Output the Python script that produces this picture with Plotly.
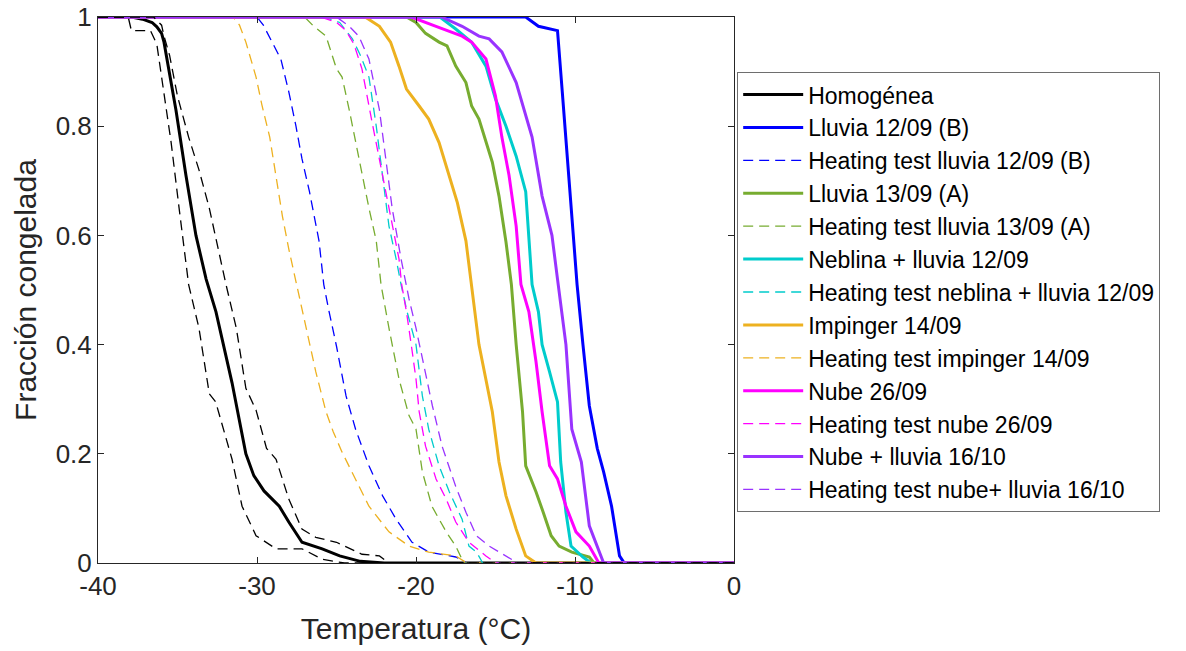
import plotly.graph_objects as go

# Temperature (°C) / frozen fraction
homog_x = [-40, -37.9, -37.2, -36.6, -36.3, -36.0, -35.85, -35.1, -34.47, -33.84, -33.2, -32.58, -31.57,
           -30.7, -30.2, -29.56, -28.6, -28.0, -27.17, -25.9, -24.8, -23.5, -22.0, 0]
homog_y = [1, 1, 0.996, 0.99, 0.982, 0.97, 0.954, 0.83, 0.71, 0.60, 0.52, 0.46, 0.33,
           0.20, 0.16, 0.132, 0.104, 0.075, 0.038, 0.026, 0.013, 0.003, 0, 0]

homog_lo_x = [-40, -38.1, -37.9, -36.7, -36.3, -36.0, -35.4, -34.9, -34.3, -33.65, -33.0, -32.6, -31.57,
              -30.94, -30.06, -28.8, -27.17, -25.9, -24.5, 0]
homog_lo_y = [1, 1, 0.975, 0.975, 0.95, 0.89, 0.77, 0.65, 0.51, 0.43, 0.31, 0.295, 0.19,
              0.104, 0.05, 0.026, 0.026, 0.007, 0, 0]

homog_hi_x = [-40, -36.5, -36.0, -35.85, -35.5, -35.0, -34.3, -33.65, -33.0, -32.4, -31.95, -31.3, -30.7,
              -30.06, -29.4, -28.8, -28.0, -27.17, -26.3, -25.0, -24.0, -23.4, -22.3, -21.7, 0]
homog_hi_y = [1, 1, 0.985, 0.965, 0.93, 0.855, 0.78, 0.72, 0.65, 0.57, 0.51, 0.43, 0.32,
              0.28, 0.21, 0.19, 0.117, 0.062, 0.047, 0.038, 0.025, 0.016, 0.013, 0, 0]

lluvia_b_x = [-40, -13.1, -12.3, -11.6, -11.1, -10.8, -10.4, -10.06, -9.87, -9.5, -9.1, -8.6, -8.2,
              -7.7, -7.2, -6.9, 0]
lluvia_b_y = [1, 1, 0.983, 0.978, 0.975, 0.863, 0.71, 0.588, 0.51, 0.40, 0.288, 0.21, 0.167,
              0.104, 0.013, 0, 0]

ht_lluvia_b_x = [-40, -30.0, -29.6, -29.05, -28.5, -28.0, -27.55, -27.17, -26.7, -26.1, -25.8, -25.5, -25.0,
                 -24.4, -23.8, -22.96, -22.1, -21.25, -20.25, -19.2, -17.5, -16.8, 0]
ht_lluvia_b_y = [1, 1, 0.985, 0.954, 0.923, 0.863, 0.80, 0.74, 0.68, 0.59, 0.51, 0.465, 0.397,
                 0.306, 0.245, 0.178, 0.123, 0.08, 0.038, 0.02, 0.011, 0, 0]

lluvia_a_x = [-40, -20.6, -20.0, -19.4, -18.55, -18.05, -17.5, -16.86, -16.5, -16.04, -15.2, -14.78, -14.34,
              -14.0, -13.7, -13.3, -13.1, -12.45, -12.0, -11.5, -11.0, -10.2, -9.1, -8.8, 0]
lluvia_a_y = [1, 1, 0.99, 0.97, 0.954, 0.947, 0.91, 0.88, 0.837, 0.813, 0.734, 0.672, 0.588,
              0.51, 0.40, 0.277, 0.178, 0.13, 0.093, 0.05, 0.031, 0.02, 0.011, 0, 0]

ht_lluvia_a_x = [-40, -27.0, -26.5, -25.66, -25.0, -24.65, -24.2, -23.8, -23.4, -22.96, -22.5, -22.2, -21.7,
                 -21.07, -20.44, -20.0, -19.6, -19.0, -18.1, -17.5, -17.0, 0]
ht_lluvia_a_y = [1, 1, 0.985, 0.965, 0.905, 0.89, 0.83, 0.77, 0.71, 0.65, 0.59, 0.51, 0.43,
                 0.337, 0.27, 0.245, 0.167, 0.104, 0.057, 0.031, 0, 0]

neblina_x = [-40, -18.5, -17.5, -16.5, -15.6, -15.0, -14.34, -13.7, -13.1, -12.9, -12.7, -12.3, -12.07,
             -11.6, -11.1, -10.9, -10.57, -10.25, -9.5, -9.0, 0]
neblina_y = [1, 1, 0.978, 0.954, 0.91, 0.85, 0.80, 0.745, 0.68, 0.588, 0.51, 0.46, 0.40,
             0.35, 0.295, 0.185, 0.093, 0.031, 0.011, 0, 0]

ht_neblina_x = [-40, -25.8, -24.8, -24.0, -23.5, -22.96, -22.5, -22.1, -21.7, -21.25, -20.94, -20.56, -20.0,
                -19.6, -19.2, -18.55, -17.9, -17.1, -16.67, -16.2, -15.8, 0]
ht_neblina_y = [1, 1, 0.99, 0.96, 0.93, 0.89, 0.80, 0.71, 0.617, 0.557, 0.51, 0.46, 0.40,
                0.306, 0.245, 0.178, 0.13, 0.08, 0.031, 0.02, 0, 0]

impinger_x = [-40, -23.2, -22.3, -21.6, -21.07, -20.6, -19.8, -19.2, -18.55, -17.9, -17.4, -16.86, -16.5,
              -16.04, -15.2, -14.78, -14.34, -13.7, -13.1, -12.45, 0]
impinger_y = [1, 1, 0.983, 0.954, 0.91, 0.868, 0.837, 0.813, 0.77, 0.71, 0.66, 0.59, 0.51,
              0.40, 0.277, 0.185, 0.123, 0.062, 0.013, 0, 0]

ht_impinger_x = [-40, -31.5, -31.1, -30.7, -30.06, -29.7, -29.2, -28.8, -28.4, -28.0, -27.5, -26.9, -26.3,
                 -25.66, -25.2, -24.65, -23.8, -22.96, -21.7, -20.44, -19.2, -17.5, -16.8, 0]
ht_impinger_y = [1, 1, 0.985, 0.954, 0.89, 0.84, 0.78, 0.71, 0.635, 0.575, 0.51, 0.43, 0.35,
                 0.277, 0.24, 0.203, 0.154, 0.104, 0.057, 0.031, 0.02, 0.013, 0, 0]

nube_x = [-40, -20.3, -18.74, -17.1, -16.5, -15.6, -15.0, -14.6, -14.15, -13.7, -13.4, -12.9, -12.45,
          -12.07, -11.6, -11.1, -10.57, -9.94, -9.1, -8.5, 0]
nube_y = [1, 1, 0.983, 0.965, 0.954, 0.923, 0.855, 0.78, 0.71, 0.617, 0.51, 0.46, 0.368,
          0.277, 0.178, 0.154, 0.104, 0.057, 0.031, 0, 0]

ht_nube_x = [-40, -26.0, -25.0, -24.4, -23.9, -23.4, -22.8, -22.3, -21.9, -21.5, -21.07, -20.9, -20.6,
             -20.3, -20.0, -19.8, -19.4, -18.74, -18.1, -17.5, -16.67, -15.6, -15.0, 0]
ht_nube_y = [1, 1, 0.99, 0.975, 0.95, 0.905, 0.813, 0.74, 0.68, 0.617, 0.557, 0.51, 0.46,
             0.40, 0.337, 0.277, 0.214, 0.154, 0.117, 0.075, 0.038, 0.013, 0, 0]

nube_lluvia_x = [-40, -18.4, -17.1, -16.04, -15.4, -14.6, -13.7, -12.7, -12.07, -11.45, -11.1, -10.57, -10.2,
                 -9.6, -9.1, -8.6, -8.2, 0]
nube_lluvia_y = [1, 1, 0.983, 0.965, 0.96, 0.936, 0.88, 0.78, 0.672, 0.60, 0.52, 0.40, 0.245,
                 0.185, 0.068, 0.031, 0, 0]

ht_nube_lluvia_x = [-40, -25.0, -24.2, -23.6, -22.96, -22.3, -21.9, -21.5, -20.94, -20.6, -20.44, -20.0, -19.4,
                    -18.97, -18.36, -17.5, -16.86, -16.2, -15.4, -14.3, -13.6, 0]
ht_nube_lluvia_y = [1, 1, 0.983, 0.965, 0.923, 0.83, 0.74, 0.65, 0.557, 0.51, 0.484, 0.43, 0.35,
                    0.288, 0.214, 0.14, 0.093, 0.05, 0.031, 0.013, 0, 0]

x_ticks = [-40, -30, -20, -10, 0]
x_ticktext = ["-40", "-30", "-20", "-10", "0"]
y_ticks = [0, 0.2, 0.4, 0.6, 0.8, 1]
y_ticktext = ["0", "0.2", "0.4", "0.6", "0.8", "1"]

FONT = "Liberation Sans, Arial, sans-serif"
DASH = "10px,6px"

# (name, x, y, color, dashed?)
series = [
    ("Homogénea", homog_x, homog_y, "#000000", False),
    ("Lluvia 12/09 (B)", lluvia_b_x, lluvia_b_y, "#0000FF", False),
    ("Heating test lluvia 12/09 (B)", ht_lluvia_b_x, ht_lluvia_b_y, "#0000FF", True),
    ("Lluvia 13/09 (A)", lluvia_a_x, lluvia_a_y, "#77AC30", False),
    ("Heating test lluvia 13/09 (A)", ht_lluvia_a_x, ht_lluvia_a_y, "#77AC30", True),
    ("Neblina + lluvia 12/09", neblina_x, neblina_y, "#00CCCC", False),
    ("Heating test neblina + lluvia 12/09", ht_neblina_x, ht_neblina_y, "#00CCCC", True),
    ("Impinger 14/09", impinger_x, impinger_y, "#EDB120", False),
    ("Heating test impinger 14/09", ht_impinger_x, ht_impinger_y, "#EDB120", True),
    ("Nube 26/09", nube_x, nube_y, "#FF00FF", False),
    ("Heating test nube 26/09", ht_nube_x, ht_nube_y, "#FF00FF", True),
    ("Nube + lluvia 16/10", nube_lluvia_x, nube_lluvia_y, "#9933FF", False),
    ("Heating test nube+ lluvia 16/10", ht_nube_lluvia_x, ht_nube_lluvia_y, "#9933FF", True),
]

fig = go.Figure()
for name, xs, ys, col, dashed in series:
    fig.add_trace(go.Scatter(
        x=xs, y=ys, mode="lines", name=name,
        line=dict(color=col, width=1.3 if dashed else 3, dash=DASH if dashed else "solid"),
    ))

# dashed bounds around the homogeneous curve, not in legend
for xs, ys in [(homog_lo_x, homog_lo_y), (homog_hi_x, homog_hi_y)]:
    fig.add_trace(go.Scatter(x=xs, y=ys, mode="lines", showlegend=False,
                             line=dict(color="#000000", width=1.3, dash=DASH)))

axis_common = dict(
    showline=True, linecolor="#262626", linewidth=1, mirror="ticks",
    ticks="inside", ticklen=6, tickcolor="#262626",
    showgrid=False, zeroline=False, automargin=False,
    ticklabeloverflow="allow",
    tickfont=dict(family=FONT, size=26, color="#262626"),
)

# the page body adds ~9px offset, margins are trimmed to compensate
fig.update_layout(
    width=1186, height=651,
    margin=dict(l=90, r=460, t=9, b=96),
    paper_bgcolor="white", plot_bgcolor="white",
    font=dict(family=FONT, color="#262626"),
    xaxis=dict(range=[-40, 0], tickvals=x_ticks, ticktext=x_ticktext,
               title=dict(text="Temperatura (°C)", font=dict(family=FONT, size=30, color="#262626"), standoff=17),
               **axis_common),
    yaxis=dict(range=[0, 1], tickvals=y_ticks, ticktext=y_ticktext,
               title=dict(text="Fracción congelada", font=dict(family=FONT, size=30, color="#262626"), standoff=10),
               **axis_common),
    legend=dict(x=1.005, y=0.899, xanchor="left", yanchor="top",
                bgcolor="white", bordercolor="#6e6e6e", borderwidth=1,
                font=dict(family=FONT, size=23, color="#000000"),
                itemwidth=60, tracegroupgap=0),
    showlegend=True,
)

fig.write_html("out.html")
